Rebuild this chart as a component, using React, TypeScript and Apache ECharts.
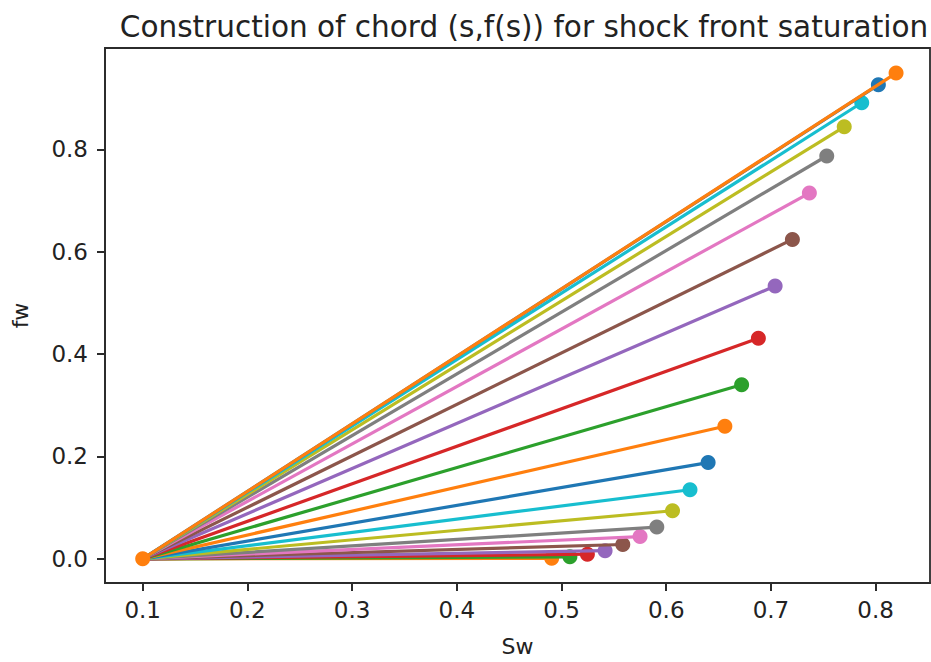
import React, { useEffect, useRef } from "react";
import * as echarts from "echarts";

// Chord start point (s_wc, f=0)
const originS = 0.1;
const originF = 0.0;

// Chord end points (s, f(s))
const sValues = [
  0.4906, 0.508, 0.5247, 0.5416, 0.5585, 0.575, 0.591, 0.606, 0.6227, 0.64,
  0.656, 0.672, 0.688, 0.704, 0.7205, 0.7367, 0.7533, 0.77, 0.7867, 0.8026,
  0.8195,
];
const fValues = [
  0.001, 0.004, 0.009, 0.016, 0.028, 0.0435, 0.062, 0.094, 0.135, 0.188,
  0.259, 0.34, 0.431, 0.533, 0.624, 0.7145, 0.787, 0.844, 0.891, 0.926,
  0.949,
];

const xTicks = [0.1, 0.2, 0.3, 0.4, 0.5, 0.6, 0.7, 0.8];
const yTicks = [0.0, 0.2, 0.4, 0.6, 0.8];

const tab10 = [
  "#1f77b4", "#ff7f0e", "#2ca02c", "#d62728", "#9467bd",
  "#8c564b", "#e377c2", "#7f7f7f", "#bcbd22", "#17becf",
];

const FONT = "DejaVu Sans";
const AXIS_COLOR = "#2b2b2b";

export default function App() {
  const ref = useRef<HTMLDivElement>(null);

  useEffect(() => {
    if (!ref.current) return;
    const chart = echarts.init(ref.current, null, { renderer: "svg" });

    const last = sValues.length - 1;
    const series = sValues.map((s, i) => {
      const color = tab10[(i + 1) % tab10.length];
      return {
        type: "line",
        data: [
          // the shared start marker is fully covered by the last one drawn
          { value: [originS, originF], symbol: i === last ? "circle" : "none" },
          [s, fValues[i]],
        ],
        symbol: "circle",
        symbolSize: 15,
        showSymbol: true,
        lineStyle: { color, width: 3.2 },
        itemStyle: { color },
        silent: true,
        z: 2 + i,
      };
    });

    chart.setOption({
      animation: false,
      title: {
        text: "Construction of chord (s,f(s)) for shock front saturation",
        left: 519,
        textAlign: "center",
        top: 7,
        textStyle: {
          fontFamily: FONT,
          fontSize: 29.5,
          fontWeight: "normal",
          color: "#222",
        },
      },
      grid: {
        left: 105,
        top: 48,
        width: 825,
        height: 538,
        show: true,
        borderColor: AXIS_COLOR,
        borderWidth: 1.8,
        backgroundColor: "#fff",
      },
      xAxis: {
        type: "value",
        min: 0.064,
        max: 0.8519,
        name: "Sw",
        nameLocation: "middle",
        nameGap: 52,
        nameTextStyle: { fontFamily: FONT, fontSize: 22, color: "#222" },
        splitLine: { show: false },
        axisLine: {
          show: true,
          onZero: false,
          lineStyle: { color: AXIS_COLOR, width: 1.8 },
        },
        axisTick: {
          show: true,
          inside: false,
          length: 8,
          lineStyle: { color: AXIS_COLOR, width: 2 },
          customValues: xTicks,
        },
        axisLabel: {
          margin: 15,
          fontFamily: FONT,
          fontSize: 23,
          color: "#222",
          customValues: xTicks,
          formatter: (v: number) => v.toFixed(1),
        },
      },
      yAxis: {
        type: "value",
        min: -0.0472,
        max: 0.998,
        name: "fw",
        nameLocation: "middle",
        nameGap: 74,
        nameRotate: 90,
        nameTextStyle: { fontFamily: FONT, fontSize: 22, color: "#222" },
        splitLine: { show: false },
        axisLine: {
          show: true,
          onZero: false,
          lineStyle: { color: AXIS_COLOR, width: 1.8 },
        },
        axisTick: {
          show: true,
          inside: false,
          length: 8,
          lineStyle: { color: AXIS_COLOR, width: 2 },
          customValues: yTicks,
        },
        axisLabel: {
          margin: 17,
          fontFamily: FONT,
          fontSize: 23,
          color: "#222",
          customValues: yTicks,
          formatter: (v: number) => v.toFixed(1),
        },
      },
      series,
    });

    return () => chart.dispose();
  }, []);

  return (
    <div
      ref={ref}
      style={{
        position: "fixed",
        left: 0,
        top: 0,
        width: 931,
        height: 662,
        background: "#fff",
      }}
    />
  );
}
